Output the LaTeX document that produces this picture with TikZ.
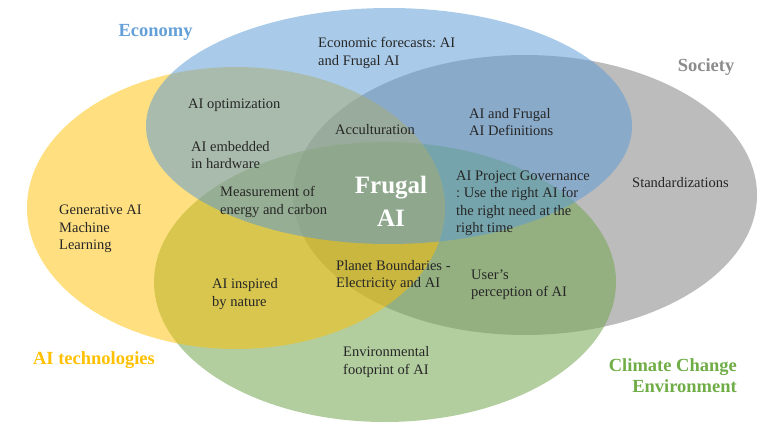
\documentclass[tikz,border=0pt]{standalone}
\usepackage{fontspec}
\setmainfont{Liberation Serif}
\frenchspacing
\definecolor{econblue}{RGB}{91,155,213}
\definecolor{socgray}{RGB}{160,160,160}
\definecolor{techyellow}{RGB}{255,192,0}
\definecolor{climgreen}{RGB}{115,165,80}
\definecolor{headgreen}{RGB}{112,173,71}
\definecolor{headgray}{RGB}{140,140,140}
\definecolor{headblue}{RGB}{100,160,215}
\begin{document}
\begin{tikzpicture}[x=1pt,y=1pt]
        \useasboundingbox (0,0) rectangle (768,424);

        \fill[socgray, fill opacity=0.7] (525,229) ellipse [x radius=232pt, y radius=140pt];
        \fill[climgreen, fill opacity=0.55] (385,142) ellipse [x radius=231pt, y radius=140pt];
        \fill[techyellow, fill opacity=0.5] (236,216) ellipse [x radius=209pt, y radius=141pt];
        \fill[econblue, fill opacity=0.52] (389,298) ellipse [x radius=243pt, y radius=118pt];

        \begin{scope}[every node/.style={inner sep=0pt, font=\fontsize{18.5}{21}\selectfont\bfseries}]
          \node[headblue] (econ) at (155.5,392) {Economy};
          \node[headgray] (soc) at (706,357) {Society};
          \node[techyellow] (tech) at (94,64) {AI technologies};
          \node[headgreen, anchor=east, align=right] (clim) at (737,48) {Climate Change\\Environment};
        \end{scope}

        \node[white, inner sep=0pt, align=center, font=\fontsize{25}{33}\selectfont\bfseries] (frugal) at (391,223) {Frugal\\AI};

        \begin{scope}[every node/.style={inner sep=0pt, anchor=west, align=left, text=black!85, font=\fontsize{14.5}{17.5}\selectfont}]
          \node (forecast)  at (318,371)   {Economic forecasts: AI\\and Frugal AI};
          \node (optim)     at (188,319)   {AI optimization};
          \node (embedded)  at (191,269)   {AI embedded\\in hardware};
          \node (measure)   at (220,222)   {Measurement of\\energy and carbon};
          \node (accult)    at (335,294)   {Acculturation};
          \node (defs)      at (469,302)   {AI and Frugal\\AI Definitions};
          \node (govern)    at (456,220.5) {AI Project Governance\\: Use the right AI for\\the right need at the\\right time};
          \node (standard)  at (632,241)   {Standardizations};
          \node (genai)     at (59,195)    {Generative AI\\Machine\\Learning};
          \node (inspired)  at (212,130)   {AI inspired\\by nature};
          \node (planet)    at (336,148.5) {Planet Boundaries -\\Electricity and AI};
          \node (users)     at (471,139.5) {User’s\\perception of AI};
          \node (footprint) at (343,62)    {Environmental\\footprint of AI};
        \end{scope}

      \end{tikzpicture}
\end{document}
